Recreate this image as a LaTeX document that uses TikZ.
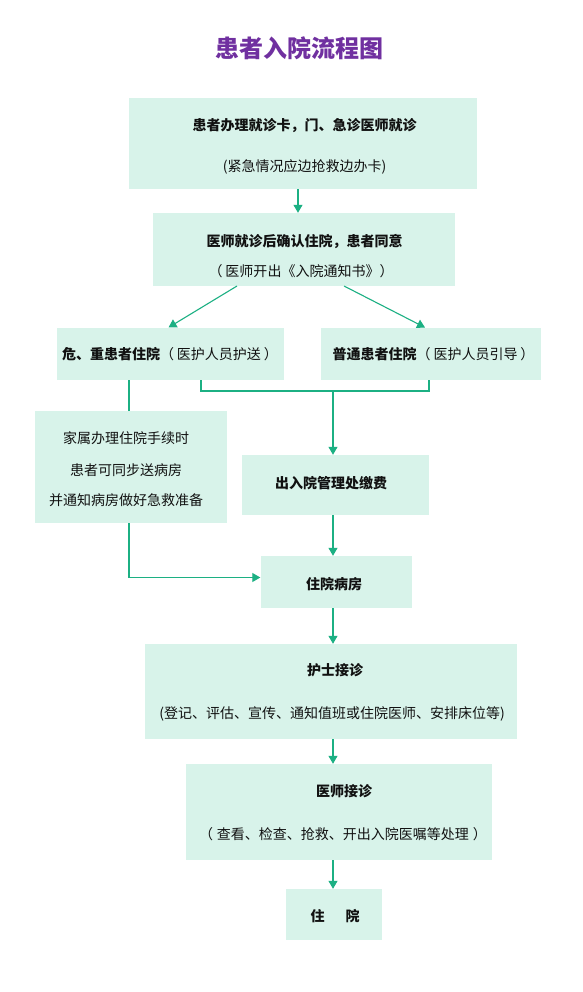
\documentclass[tikz,border=0pt]{standalone}
\usepackage{fontspec}
\setmainfont{Noto Sans CJK SC}
\usetikzlibrary{arrows.meta}
\definecolor{boxfill}{HTML}{D8F3EA}
\definecolor{linegreen}{HTML}{1CB083}
\definecolor{titlepurple}{HTML}{7030A0}
\definecolor{textblack}{HTML}{111111}
\begin{document}
\begin{tikzpicture}[x=1pt,y=-1pt,
  box/.style={fill=boxfill,draw=none,inner sep=0pt,rectangle},
  txt/.style={inner sep=0pt,anchor=base,text=textblack,font=\fontsize{14pt}{16pt}\selectfont},
  btxt/.style={txt,font=\fontsize{14pt}{16pt}\selectfont\bfseries},
  conn/.style={draw=linegreen,line width=1.1pt},
  arr/.style={conn,-{Triangle[width=9pt,length=8pt]}}]
\useasboundingbox[fill=white] (0,0) rectangle (582,992);
% title
\node[inner sep=0pt,anchor=base,text=titlepurple,font=\fontsize{24pt}{28pt}\selectfont\bfseries] (title) at (299,57.5) {患者入院流程图};
% boxes
\node[box,minimum width=348pt,minimum height=91pt] (B1) at (303,143.5) {};
\node[box,minimum width=302pt,minimum height=73pt] (B2) at (304,249.5) {};
\node[box,minimum width=227pt,minimum height=52.5pt] (B3) at (170.5,353.75) {};
\node[box,minimum width=220pt,minimum height=52.5pt] (B4) at (431,353.75) {};
\node[box,minimum width=192pt,minimum height=112pt] (BF) at (131,467) {};
\node[box,minimum width=187pt,minimum height=60pt] (B5) at (335.5,485) {};
\node[box,minimum width=151pt,minimum height=52pt] (B6) at (336,582) {};
\node[box,minimum width=372.5pt,minimum height=95pt] (B7) at (331,691.5) {};
\node[box,minimum width=306.5pt,minimum height=96pt] (B8) at (339,812) {};
\node[box,minimum width=96pt,minimum height=51pt] (B9) at (334,914.5) {};
% texts
\node[btxt] (t1a) at (304.5,130.3) {患者办理就诊卡，门、急诊医师就诊};
\node[txt] (t1b) at (304.5,171.3) {(紧急情况应边抢救边办卡)};
\node[btxt] (t2a) at (304.5,246.3) {医师就诊后确认住院，患者同意};
\node[txt] (t2b) at (301,276.7) {（\hspace{3pt}医师开出《入院通知书》）};
\node[txt] (t3) at (170,359.3) {\textbf{危、重患者住院}（\hspace{3pt}医护人员护送\hspace{3pt}）};
\node[txt] (t4) at (433.5,359.3) {\textbf{普通患者住院}（\hspace{3pt}医护人员引导\hspace{3pt}）};
\node[txt] (tf1) at (126,443.1) {家属办理住院手续时};
\node[txt] (tf2) at (126,475.3) {患者可同步送病房};
\node[txt] (tf3) at (126,505.3) {并通知病房做好急救准备};
\node[btxt] (t5) at (331,488.3) {出入院管理处缴费};
\node[btxt] (t6) at (334,589.1) {住院病房};
\node[btxt] (t7a) at (335,675.3) {护士接诊};
\node[txt] (t7b) at (332,718.8) {(登记、评估、宣传、通知值班或住院医师、安排床位等)};
\node[btxt] (t8a) at (344,796.8) {医师接诊};
\node[txt] (t8b) at (343,839.3) {（\hspace{4pt}查看、检查、抢救、开出入院医嘱等处理\hspace{4pt}）};
\node[btxt] (t9) at (335,921.1) {住\hspace{21pt}院};
% helper coordinates
\coordinate (xa) at (298,0);
\coordinate (xm) at (333,0);
\coordinate (xl) at (201,0);
\coordinate (xr) at (429,0);
\coordinate (xf) at (129,0);
\coordinate (j1) at (201,391);
\coordinate (j2) at (429,391);
\coordinate (jm) at (333,391);
\coordinate (jf) at (129,577.5);
% connectors
\draw[arr] (xa |- B1.south) -- (xa |- B2.north);
\draw[arr] (237,286) -- (168.5,327.5);
\draw[arr] (344,286) -- (425,327.5);
\draw[conn] (xf |- B3.south) -- (xf |- BF.north);
\draw[conn] (xl |- B3.south) -- (j1) -- (j2) -- (xr |- B4.south);
\draw[arr] (jm) -- (xm |- B5.north);
\draw[arr] (xf |- BF.south) -- (jf) -- (jf -| B6.west);
\draw[arr] (xm |- B5.south) -- (xm |- B6.north);
\draw[arr] (xm |- B6.south) -- (xm |- B7.north);
\draw[arr] (xm |- B7.south) -- (xm |- B8.north);
\draw[arr] (xm |- B8.south) -- (xm |- B9.north);
\end{tikzpicture}
\end{document}
